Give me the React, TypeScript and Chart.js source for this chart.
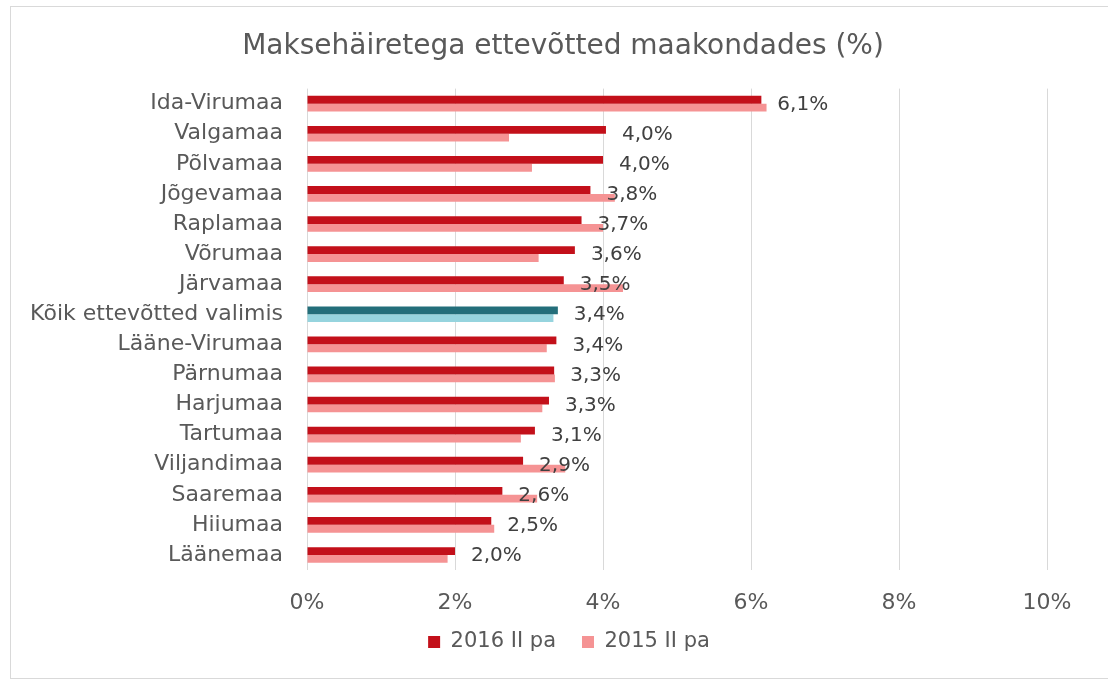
import React, { useEffect, useRef } from "react";
import { Chart, registerables } from "chart.js";

Chart.register(...registerables);

const categories = [
  "Ida-Virumaa",
  "Valgamaa",
  "Põlvamaa",
  "Jõgevamaa",
  "Raplamaa",
  "Võrumaa",
  "Järvamaa",
  "Kõik ettevõtted valimis",
  "Lääne-Virumaa",
  "Pärnumaa",
  "Harjumaa",
  "Tartumaa",
  "Viljandimaa",
  "Saaremaa",
  "Hiiumaa",
  "Läänemaa",
];

const values2016 = [6.14, 4.04, 4.0, 3.83, 3.71, 3.62, 3.47, 3.39, 3.37, 3.34, 3.27, 3.08, 2.92, 2.64, 2.49, 2.0];
const values2015 = [6.21, 2.73, 3.04, 4.16, 4.0, 3.13, 4.27, 3.33, 3.24, 3.35, 3.18, 2.89, 3.49, 3.11, 2.53, 1.9];

const seriesNames = ["2016 II pa", "2015 II pa"];
const xTicks = [0, 2, 4, 6, 8, 10];
const highlightCategory = "Kõik ettevõtted valimis";

const FONT = "'DejaVu Sans', sans-serif";
const DARK = "#C3101A";
const LIGHT = "#F59394";
const DARK_HL = "#236E7A";
const LIGHT_HL = "#96D4DE";

// target centres (canvas coordinates)
const TITLE_CX = 552;
const LEGEND_CX = 558;
const LEGEND_CY = 635;

const labelPlugin = {
  id: "barValueLabels",
  afterLayout(chart: any) {
    const t = chart.titleBlock;
    if (t) {
      const dx = TITLE_CX - (t.left + t.right) / 2;
      t.left += dx;
      t.right += dx;
    }
    const l = chart.legend;
    if (l) {
      const pad = l.options.labels.padding;
      const curCx = (l.left + l.right) / 2;
      const dx = LEGEND_CX - curCx;
      l.left += dx;
      l.right += dx;
      const itemH = Math.max(l.options.labels.font.size, l.options.labels.boxHeight);
      const curCy = l.top + pad + itemH / 2;
      const dy = LEGEND_CY - curCy;
      l.top += dy;
      l.bottom += dy;
    }
  },
  afterDatasetsDraw(chart: any) {
    const meta = chart.getDatasetMeta(0);
    const yScale = chart.scales.y;
    const ctx = chart.ctx;
    ctx.save();
    ctx.font = `20px ${FONT}`;
    ctx.fillStyle = "#404040";
    ctx.textAlign = "left";
    ctx.textBaseline = "middle";
    meta.data.forEach((bar: any, i: number) => {
      const v = values2016[i];
      const txt = v.toFixed(1).replace(".", ",") + "%";
      ctx.fillText(txt, bar.x + 16, yScale.getPixelForValue(i) + 1);
    });
    ctx.restore();
  },
};

export default function App() {
  const ref = useRef<HTMLCanvasElement | null>(null);
  useEffect(() => {
    if (!ref.current) return;
    const chart = new Chart(ref.current, {
      type: "bar",
      data: {
        labels: categories,
        datasets: [
          {
            label: seriesNames[0],
            data: values2016,
            backgroundColor: categories.map((c) => (c === highlightCategory ? DARK_HL : DARK)),
            categoryPercentage: 0.52,
            barPercentage: 1,
          },
          {
            label: seriesNames[1],
            data: values2015,
            backgroundColor: categories.map((c) => (c === highlightCategory ? LIGHT_HL : LIGHT)),
            categoryPercentage: 0.52,
            barPercentage: 1,
          },
        ],
      },
      options: {
        indexAxis: "y",
        animation: false,
        responsive: false,
        maintainAspectRatio: false,
        layout: { padding: { left: 8, right: 61, top: 0, bottom: 1 } },
        plugins: {
          title: {
            display: true,
            text: "Maksehäiretega ettevõtted maakondades (%)",
            color: "#595959",
            font: { family: FONT, size: 28, weight: "normal" },
            padding: { top: 23, bottom: 25 },
          },
          legend: {
            position: "bottom",
            labels: {
              color: "#595959",
              font: { family: FONT, size: 21 },
              boxWidth: 12,
              boxHeight: 12,
              padding: 26,
              generateLabels: () =>
                seriesNames.map((n, i) => ({
                  text: n,
                  fillStyle: i === 0 ? DARK : LIGHT,
                  strokeStyle: i === 0 ? DARK : LIGHT,
                  lineWidth: 0,
                  datasetIndex: i,
                  hidden: false,
                  fontColor: "#595959",
                })),
            },
          },
          tooltip: { enabled: false },
        },
        scales: {
          x: {
            min: 0,
            max: 10,
            afterBuildTicks: (s: any) => {
              s.ticks = xTicks.map((v) => ({ value: v }));
            },
            afterFit: (s: any) => {
              s.height = 50;
            },
            grid: { color: "#D9D9D9", lineWidth: 1, drawTicks: false },
            border: { display: false },
            ticks: {
              color: "#595959",
              font: { family: FONT, size: 22 },
              padding: 20,
              callback: (v: any) => `${v}%`,
            },
          },
          y: {
            afterFit: (s: any) => {
              s.width = 288;
            },
            grid: { display: false, drawTicks: false },
            border: { display: false },
            ticks: {
              color: "#595959",
              font: { family: FONT, size: 22 },
              padding: 24,
              autoSkip: false,
            },
          },
        },
      },
      plugins: [labelPlugin],
    } as any);
    return () => chart.destroy();
  }, []);

  return (
    <div
      style={{
        position: "absolute",
        left: 10,
        top: 6,
        width: 1098,
        height: 673,
        border: "1px solid #D9D9D9",
        borderRight: "none",
        boxSizing: "border-box",
        background: "#fff",
      }}
    >
      <canvas ref={ref} width={1097} height={671} style={{ width: 1097, height: 671, display: "block" }} />
    </div>
  );
}
